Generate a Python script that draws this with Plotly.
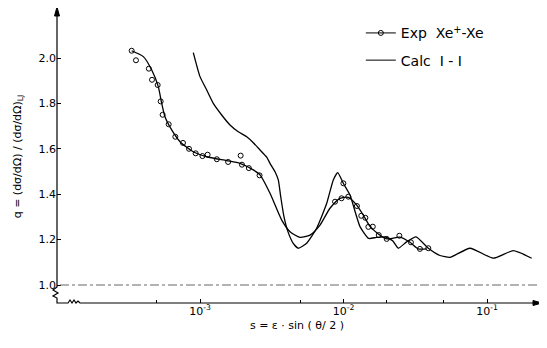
import plotly.graph_objects as go

# ---------------- data ----------------
exp_pts_s = [3.34e-4, 3.58e-4, 4.40e-4, 4.63e-4, 5.07e-4, 5.32e-4, 5.49e-4, 6.05e-4, 6.73e-4,
             7.61e-4, 8.38e-4, 9.33e-4, 1.04e-3, 1.13e-3, 1.31e-3, 1.57e-3, 1.92e-3, 1.96e-3,
             2.19e-3, 2.60e-3, 8.73e-3, 9.69e-3, 9.98e-3, 1.08e-2, 1.24e-2, 1.33e-2, 1.42e-2,
             1.49e-2, 1.60e-2, 1.76e-2, 2.00e-2, 2.45e-2, 2.95e-2, 3.41e-2, 3.90e-2]
exp_pts_q = [2.032, 1.990, 1.953, 1.904, 1.881, 1.809, 1.750, 1.708, 1.653,
             1.626, 1.600, 1.580, 1.568, 1.574, 1.554, 1.542, 1.570, 1.530,
             1.515, 1.483, 1.367, 1.382, 1.448, 1.389, 1.348, 1.305, 1.296,
             1.256, 1.257, 1.220, 1.203, 1.217, 1.188, 1.159, 1.162]

exp_curve_s = [3.34e-4, 4.03e-4, 4.61e-4, 5.12e-4, 5.41e-4, 5.70e-4, 6.35e-4, 7.26e-4, 8.98e-4,
               1.114e-3, 1.535e-3, 1.90e-3, 2.35e-3, 2.619e-3, 3.075e-3, 3.71e-3, 4.24e-3,
               4.97e-3, 5.84e-3, 6.86e-3, 8.05e-3, 9.45e-3, 1.08e-2, 1.236e-2, 1.413e-2,
               1.53e-2, 1.748e-2, 2.0e-2, 2.476e-2, 2.907e-2, 3.32e-2, 3.80e-2]
exp_curve_q = [2.032, 2.006, 1.947, 1.874, 1.800, 1.741, 1.683, 1.631, 1.587,
               1.565, 1.548, 1.536, 1.507, 1.485, 1.404, 1.286, 1.235,
               1.210, 1.220, 1.264, 1.338, 1.382, 1.386, 1.352, 1.295,
               1.258, 1.225, 1.203, 1.211, 1.188, 1.159, 1.159]

calc_s = [8.98e-4, 1.0e-3, 1.114e-3, 1.238e-3, 1.416e-3, 1.618e-3, 1.848e-3, 2.116e-3,
          2.351e-3, 2.619e-3, 2.916e-3, 3.075e-3, 3.332e-3, 3.512e-3,
          3.65e-3, 3.85e-3, 4.10e-3, 4.45e-3, 4.84e-3, 5.54e-3, 6.50e-3, 7.64e-3,
          8.49e-3, 9.11e-3, 9.97e-3,
          1.11e-2, 1.303e-2, 1.50e-2, 1.70e-2, 1.95e-2, 2.20e-2, 2.41e-2, 2.75e-2, 3.20e-2,
          3.90e-2, 4.70e-2, 5.52e-2, 7.61e-2, 1.107e-1, 1.525e-1, 2.048e-1]
calc_q = [2.024, 1.918, 1.859, 1.800, 1.749, 1.705, 1.675, 1.653,
          1.627, 1.595, 1.563, 1.536, 1.499, 1.463,
          1.390, 1.300, 1.235, 1.185, 1.162, 1.184, 1.250, 1.360,
          1.463, 1.495, 1.448,
          1.396, 1.257, 1.205, 1.210, 1.212, 1.195, 1.162, 1.190, 1.212,
          1.162, 1.130, 1.122, 1.162, 1.118, 1.151, 1.118]

x_tick_vals = [1e-3, 1e-2, 1e-1]
x_tick_text = ["10<sup>-3</sup>", "10<sup>-2</sup>", "10<sup>-1</sup>"]
x_minor_vals = [5e-4, 5e-3, 2e-2, 5e-2]
y_tick_vals = [1.0, 1.2, 1.4, 1.6, 1.8, 2.0]
y_tick_text = ["1.0", "1.2", "1.4", "1.6", "1.8", "2.0"]
ref_level = 1.0

# ---------------- layout geometry (pixels, page coordinates) ----------------
OFF = 8                      # default body margin of the html page
W, H = 547 - OFF, 348 - OFF  # figure size
PL, PR, PT, PB = 57, 537, 10, 303   # plot-area edges in page pixels
L, T = PL - OFF, PT - OFF
R, B = (OFF + W) - PR, (OFF + H) - PB
PW, PH = PR - PL, PB - PT


def px(x):
    return (x - PL) / PW


def py(y):
    return (PB - y) / PH


def path(points):
    return "M " + " L ".join(f"{px(a):.5f},{py(b):.5f}" for a, b in points)


FONT = "DejaVu Sans"
fig = go.Figure()

fig.add_trace(go.Scatter(
    x=exp_curve_s, y=exp_curve_q, mode="lines",
    line=dict(color="black", width=1.3, shape="spline", smoothing=0.6),
    showlegend=False, hoverinfo="skip"))
fig.add_trace(go.Scatter(
    x=exp_pts_s, y=exp_pts_q, mode="markers",
    marker=dict(symbol="circle-open", size=5, color="black", line=dict(width=1)),
    showlegend=False))
fig.add_trace(go.Scatter(
    x=calc_s, y=calc_q, mode="lines",
    line=dict(color="black", width=1.3, shape="spline", smoothing=0.5),
    showlegend=False))

# legend-only traces
fig.add_trace(go.Scatter(
    x=[None], y=[None], mode="lines+markers", name="Exp  Xe<sup>+</sup>-Xe",
    line=dict(color="black", width=1),
    marker=dict(symbol="circle-open", size=5, color="black"), legendgroup="a"))
fig.add_trace(go.Scatter(
    x=[None], y=[None], mode="lines", name="Calc  I - I",
    line=dict(color="black", width=1), legendgroup="b"))

shapes = []
# reference dash-dot line at q = 1.0
shapes.append(dict(type="line", xref="paper", yref="y", x0=px(60), x1=px(537),
                   y0=ref_level, y1=ref_level,
                   line=dict(color="#666666", width=1, dash="dashdot")))
# axes with break
shapes.append(dict(type="path", xref="paper", yref="paper",
                   path=path([(57, 14), (57, 287), (53, 290), (58, 293), (53, 296),
                              (57, 298), (57, 303), (68, 303), (70, 300), (72, 303),
                              (74, 300), (76, 303), (78, 301), (80, 303), (535, 303)]),
                   line=dict(color="black", width=1.2)))
# arrow heads
shapes.append(dict(type="path", xref="paper", yref="paper",
                   path=path([(57, 7), (54.5, 16), (59.5, 16)]) + " Z",
                   fillcolor="black", line=dict(color="black", width=1)))
shapes.append(dict(type="path", xref="paper", yref="paper",
                   path=path([(542, 303), (533, 300.5), (533, 305.5)]) + " Z",
                   fillcolor="black", line=dict(color="black", width=1)))

fig.update_layout(
    width=W, height=H,
    margin=dict(l=L, r=R, t=T, b=B, autoexpand=False),
    paper_bgcolor="white", plot_bgcolor="white",
    font=dict(family=FONT, color="black", size=11),
    shapes=shapes,
    legend=dict(x=0.633, y=0.975, xanchor="left", yanchor="top",
                font=dict(family=FONT, size=14, color="black"),
                bgcolor="rgba(0,0,0,0)", tracegroupgap=6, itemwidth=30),
    xaxis=dict(type="log", range=[-3.9965, -0.6516], showgrid=False, zeroline=False,
               showline=False, ticks="inside", ticklen=4, tickcolor="black",
               automargin=False,
               tickvals=x_tick_vals, ticktext=x_tick_text,
               tickfont=dict(size=11),
               minor=dict(tickvals=x_minor_vals, ticks="inside", ticklen=3,
                          tickcolor="black"),
               title=dict(text="s = ε · sin ( θ/ 2 )", font=dict(size=11), standoff=4)),
    yaxis=dict(range=[1.0 - 18 / 227, 1.0 + 275 / 227], showgrid=False, zeroline=False,
               showline=False, ticks="inside", ticklen=4, tickcolor="black",
               automargin=False,
               tickvals=y_tick_vals, ticktext=y_tick_text, tickfont=dict(size=11),
               title=dict(text="q = (dσ/dΩ) / (dσ/dΩ)<sub>LJ</sub>",
                          font=dict(size=11), standoff=14)),
)

fig.write_html("out.html")
